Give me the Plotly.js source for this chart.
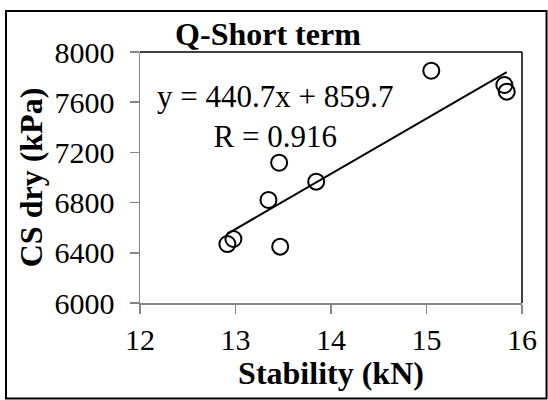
<!DOCTYPE html>
<html>
<head>
<meta charset="utf-8">
<script src="https://cdn.plot.ly/plotly-3.0.1.min.js"></script>
<style>html,body{margin:0;padding:0;background:#fff;}#chart{width:548px;height:400px;}</style>
</head>
<body>
<div id="chart"></div>
<script>
const stability = [15.05, 15.815, 15.84, 13.457, 13.845, 13.345, 12.978, 12.915, 13.468];
const csDry = [7851, 7737, 7684, 7118, 6967, 6821, 6510, 6470, 6449];
const slope = 440.7;
const intercept = 859.7;
const rValue = 0.916;
const xTicks = [12, 13, 14, 15, 16];
const yTicks = [6000, 6400, 6800, 7200, 7600, 8000];

const xMin = Math.min(...stability), xMax = Math.max(...stability);
const trendX = [xMin, xMax];
const trendY = trendX.map(v => slope * v + intercept);

const serif = 'Liberation Serif';
const gray = '#868686';

const data = [
  {x: stability, y: csDry, type: 'scatter', mode: 'markers',
   marker: {symbol: 'circle-open', size: 16, color: '#000', line: {width: 2, color: '#000'}},
   hoverinfo: 'x+y', showlegend: false},
  {x: trendX, y: trendY, type: 'scatter', mode: 'lines',
   line: {color: '#000', width: 2}, showlegend: false}
];

const layout = {
  width: 548, height: 400,
  margin: {l: 140, r: 26, t: 52, b: 97},
  paper_bgcolor: '#fff', plot_bgcolor: '#fff',
  font: {family: serif, color: '#000', size: 30},
  title: {text: '<b>Q-Short term</b>', font: {family: serif, size: 32, color: '#000'},
          xref: 'container', x: 0.489, xanchor: 'center', yref: 'container', y: 0.915, yanchor: 'middle'},
  xaxis: {range: [12, 16], tickvals: xTicks, ticktext: xTicks.map(String),
          showgrid: false, zeroline: false, showline: true, linecolor: gray, linewidth: 1.5,
          ticks: 'outside', ticklen: 9, tickcolor: gray, tickwidth: 1.5,
          tickfont: {family: serif, size: 30, color: '#000'},
          title: {text: '<b>Stability (kN)</b>', font: {family: serif, size: 32, color: '#000'}, standoff: 6}},
  yaxis: {range: [6000, 8000], tickvals: yTicks, ticktext: yTicks.map(String),
          showgrid: false, zeroline: false, showline: true, linecolor: gray, linewidth: 1.5,
          ticks: 'outside', ticklen: 9, tickcolor: gray, tickwidth: 1.5, ticklabelstandoff: 9,
          tickfont: {family: serif, size: 30, color: '#000'},
          title: {text: '<b>CS dry (kPa)</b>', font: {family: serif, size: 32, color: '#000'}, standoff: 2}},
  shapes: [
    {type: 'line', xref: 'paper', yref: 'paper', x0: 0, x1: 1, y0: 1, y1: 1, line: {color: '#000', width: 1.5}},
    {type: 'line', xref: 'paper', yref: 'paper', x0: 1, x1: 1, y0: 0, y1: 1, line: {color: '#000', width: 1.5}},
    {type: 'rect', xref: 'paper', yref: 'paper', x0: -0.3508, x1: 1.0642, y0: -0.3805, y1: 1.1633,
     line: {color: '#000', width: 2}, fillcolor: 'rgba(0,0,0,0)'}
  ],
  annotations: [
    {xref: 'x', yref: 'y', x: 13.415, y: 7485, xanchor: 'center', yanchor: 'middle', showarrow: false, align: 'center',
     text: 'y = ' + slope.toFixed(1) + 'x + ' + intercept.toFixed(1) + '<br>R = ' + rValue.toFixed(3),
     font: {family: serif, size: 31, color: '#000'}}
  ]
};

Plotly.newPlot('chart', data, layout, {displayModeBar: false, staticPlot: true});
</script>
</body>
</html>
